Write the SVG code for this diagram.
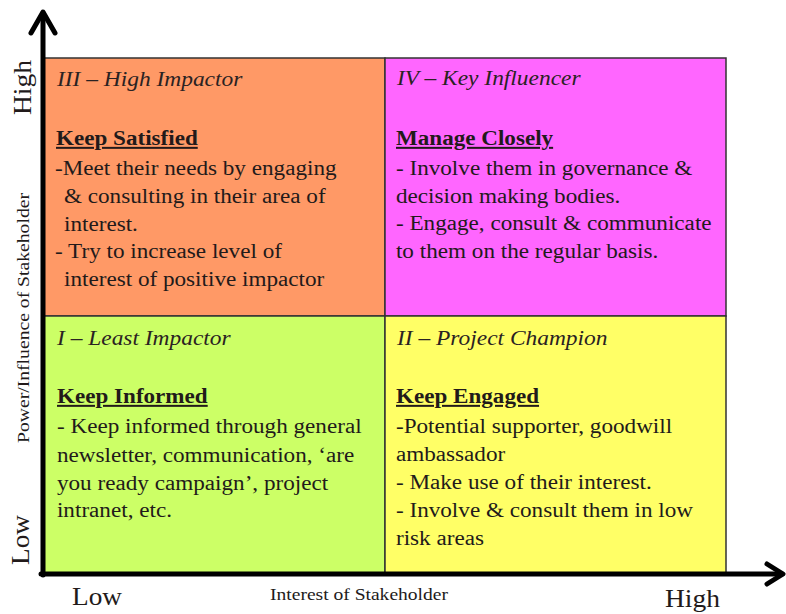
<svg xmlns="http://www.w3.org/2000/svg" width="786" height="614" viewBox="0 0 786 614">
  <style>
    .cell { stroke: #333; stroke-width: 1.5; }
    .t { font-family: "Liberation Serif", "Times New Roman", serif; fill: #221a1a; font-size: 20.5px; }
    .title { font-style: italic; font-size: 21.5px; fill: #2a2222; }
    .head { font-weight: bold; text-decoration: underline; font-size: 20px; }
    .axis { stroke: #000; stroke-width: 5; fill: none; stroke-linecap: round; stroke-linejoin: round; }
    .lvl { font-size: 26px; }
    .ax { font-size: 17px; }
  </style>

  <rect width="786" height="614" fill="#fff"/>

  <!-- Quadrant III: High power / low interest -->
  <g id="q3">
    <rect class="cell" x="44" y="58" width="341" height="258" fill="#FF9966"/>
    <text class="t title" transform="matrix(1.09 0 0 1 57 86)">III – High Impactor</text>
    <text class="t head" transform="matrix(1.155 0 0 1 56 145)">Keep Satisfied</text>
    <g transform="matrix(1.13 0 0 1 0 0)">
      <text class="t" x="48.7" y="175">-Meet their needs by engaging</text>
      <text class="t" x="56.6" y="203">&amp; consulting in their area of</text>
      <text class="t" x="56.6" y="231">interest.</text>
      <text class="t" x="48.7" y="258">- Try to increase level  of</text>
      <text class="t" x="56.6" y="286">interest of positive impactor</text>
    </g>
  </g>

  <!-- Quadrant IV: High power / high interest -->
  <g id="q4">
    <rect class="cell" x="385" y="58" width="341" height="258" fill="#FF66FF"/>
    <text class="t title" transform="matrix(1.09 0 0 1 397 85)">IV – Key Influencer</text>
    <text class="t head" transform="matrix(1.155 0 0 1 396 145)">Manage Closely</text>
    <g transform="matrix(1.13 0 0 1 0 0)">
      <text class="t" x="350.4" y="175">- Involve them in  governance &amp;</text>
      <text class="t" x="350.4" y="203">decision making  bodies.</text>
      <text class="t" x="350.4" y="230">- Engage, consult  &amp; communicate</text>
      <text class="t" x="350.4" y="258">to them  on the regular  basis.</text>
    </g>
  </g>

  <!-- Quadrant I: Low power / low interest -->
  <g id="q1">
    <rect class="cell" x="44" y="316" width="341" height="257" fill="#CCFF66"/>
    <text class="t title" transform="matrix(1.09 0 0 1 57 345)">I – Least Impactor</text>
    <text class="t head" transform="matrix(1.155 0 0 1 57 403)">Keep Informed</text>
    <g transform="matrix(1.13 0 0 1 0 0)">
      <text class="t" x="50.4" y="433">- Keep informed through general</text>
      <text class="t" x="50.4" y="462">newsletter, communication,  ‘are</text>
      <text class="t" x="50.4" y="490">you ready campaign’, project</text>
      <text class="t" x="50.4" y="517">intranet, etc.</text>
    </g>
  </g>

  <!-- Quadrant II: Low power / high interest -->
  <g id="q2">
    <rect class="cell" x="385" y="316" width="341" height="257" fill="#FFFF66"/>
    <text class="t title" transform="matrix(1.09 0 0 1 397 345)">II – Project Champion</text>
    <text class="t head" transform="matrix(1.155 0 0 1 396 403)">Keep Engaged</text>
    <g transform="matrix(1.13 0 0 1 0 0)">
      <text class="t" x="350.4" y="433">-Potential supporter, goodwill</text>
      <text class="t" x="350.4" y="461">ambassador</text>
      <text class="t" x="350.4" y="489">- Make use of their interest.</text>
      <text class="t" x="350.4" y="517">- Involve &amp; consult them in low</text>
      <text class="t" x="350.4" y="545">risk areas</text>
    </g>
  </g>

  <!-- Axes -->
  <g id="connectors">
    <path class="axis" d="M43 575 V13"/>
    <path class="axis" d="M31 33 L43 12 L55 33"/>
    <path class="axis" d="M41 574 H782"/>
    <path class="axis" d="M767 564 L783 574 L767 584"/>
  </g>

  <!-- Axis labels -->
  <g id="labels">
    <text class="t lvl" transform="translate(31 115) rotate(-90)" textLength="55" lengthAdjust="spacingAndGlyphs">High</text>
    <text class="t ax" transform="translate(29 443) rotate(-90)" textLength="250" lengthAdjust="spacingAndGlyphs">Power/Influence of Stakeholder</text>
    <text class="t lvl" transform="translate(29 565) rotate(-90)" textLength="50" lengthAdjust="spacingAndGlyphs">Low</text>
    <text class="t lvl" x="72" y="605" textLength="50" lengthAdjust="spacingAndGlyphs">Low</text>
    <text class="t ax" x="270" y="600" textLength="178" lengthAdjust="spacingAndGlyphs">Interest of Stakeholder</text>
    <text class="t lvl" x="665" y="607" textLength="55" lengthAdjust="spacingAndGlyphs">High</text>
  </g>
</svg>
